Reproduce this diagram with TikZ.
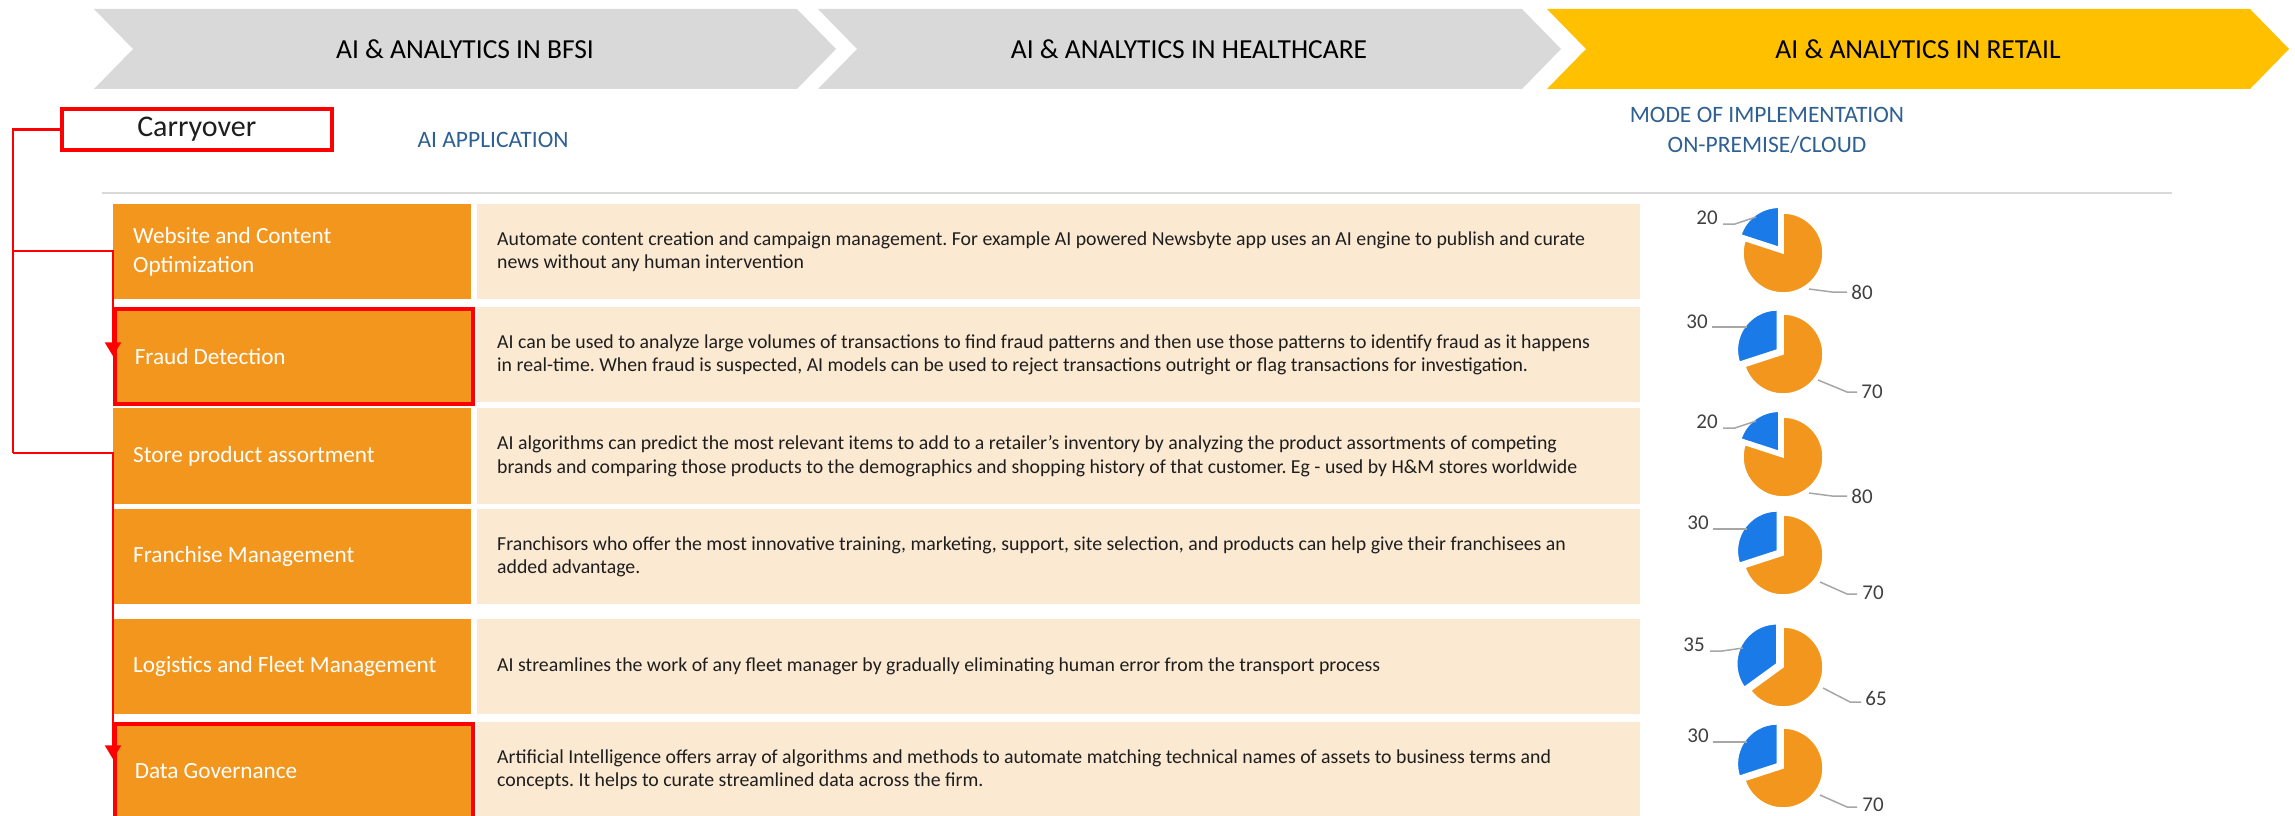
\documentclass[tikz,border=0pt]{standalone}
\usepackage{fontspec}
\setmainfont{Carlito}
\usetikzlibrary{arrows.meta}
\definecolor{chevgray}{RGB}{217,217,217}
\definecolor{chevgold}{RGB}{255,192,0}
\definecolor{boxorange}{RGB}{242,150,30}
\definecolor{cream}{RGB}{251,233,210}
\definecolor{pieblue}{RGB}{26,122,232}
\definecolor{headblue}{RGB}{46,96,146}
\definecolor{labelgray}{RGB}{64,64,64}
\definecolor{leadgray}{RGB}{166,166,166}
\definecolor{rulegray}{RGB}{217,217,217}
\definecolor{darktext}{RGB}{30,30,30}
\newcommand{\mypie}[3]{%
  \begin{scope}[shift={(#1,#2)},yscale=-1]
    \fill[boxorange,draw=white,line width=1.5] (0,0) -- (90:40) arc[start angle=90,end angle={90-360*(1-#3)},radius=40] -- cycle;
    \begin{scope}[shift={({90+180*#3}:7)}]
      \fill[pieblue,draw=white,line width=1.5] (0,0) -- (90:40) arc[start angle=90,end angle={90+360*#3},radius=40] -- cycle;
    \end{scope}
  \end{scope}}
\begin{document}
\frenchspacing
\begin{tikzpicture}[x=1pt,y=-1pt,
  chevtext/.style={font=\fontsize{27.5}{33}\selectfont,text=black,inner sep=0},
  obox/.style={fill=boxorange,anchor=north west,minimum height=95,inner xsep=20,inner ysep=0,
    text width=318,align=flush left,text=white,font=\fontsize{23.2}{29}\selectfont},
  cbox/.style={fill=cream,anchor=north west,minimum width=1163,minimum height=95,inner sep=0},
  ctext/.style={anchor=west,align=flush left,inner sep=0,text=darktext,font=\fontsize{19.8}{23.5}\selectfont},
  redframe/.style={draw=red,line width=3.5},
  redline/.style={draw=red,line width=2.5},
  redarrow/.style={redline,-{Triangle[width=16pt,length=14pt]}},
  head/.style={text=headblue,font=\fontsize{23.5}{30}\selectfont,align=center,inner sep=0},
  plabel/.style={text=labelgray,font=\fontsize{21}{25}\selectfont,inner sep=0},
  leader/.style={draw=leadgray,line width=1.5}]
\clip (0,0) rectangle (2295,816);
\fill[white] (0,0) rectangle (2295,816);
% chevrons
\fill[chevgray] (94,9) -- (797,9) -- (836,49) -- (797,89) -- (94,89) -- (133,49) -- cycle;
\fill[chevgray] (818,9) -- (1522,9) -- (1561,49) -- (1522,89) -- (818,89) -- (857,49) -- cycle;
\fill[chevgold] (1547,9) -- (2250,9) -- (2289,49) -- (2250,89) -- (1547,89) -- (1586,49) -- cycle;
\node[chevtext] (c1) at (465,49) {AI \& ANALYTICS IN BFSI};
\node[chevtext] (c2) at (1189,49) {AI \& ANALYTICS IN HEALTHCARE};
\node[chevtext] (c3) at (1918,49) {AI \& ANALYTICS IN RETAIL};
% headings
\node[head] (happ) at (493,140) {AI APPLICATION};
\node[head] (hmode) at (1767,130) {MODE OF IMPLEMENTATION\\ON-PREMISE/CLOUD};
\draw[draw=rulegray,line width=2.5] (102,193) -- (2172,193);
% carryover
\node[redframe,fill=white,anchor=north west,minimum width=270,minimum height=41,inner sep=0,
  text=darktext,font=\fontsize{30}{34}\selectfont] (carry) at (60,107) {Carryover};
% rows
\node[obox] (r1) at (113,204) {Website and Content\\Optimization};
\node[obox,redframe] (fraud) at (113,307) {Fraud Detection};
\node[obox,minimum height=96] (r3) at (113,408) {Store product assortment};
\node[obox] (r4) at (113,509) {Franchise Management};
\node[obox] (r5) at (113,619) {Logistics and Fleet Management};
\node[obox,redframe] (gov) at (113,722) {Data Governance};
\node[cbox] (d1) at (477,204) {};
\node[cbox] (d2) at (477,307) {};
\node[cbox,minimum height=96] (d3) at (477,408) {};
\node[cbox] (d4) at (477,509) {};
\node[cbox] (d5) at (477,619) {};
\node[cbox] (d6) at (477,722) {};
\node[ctext] (t1) at ([xshift=20]d1.west) {Automate content creation and campaign management. For example AI powered Newsbyte app uses an AI engine to publish and curate\\news without any human intervention};
\node[ctext] (t2) at ([xshift=20]d2.west) {AI can be used to analyze large volumes of transactions to find fraud patterns and then use those patterns to identify fraud as it happens\\in real-time. When fraud is suspected, AI models can be used to reject transactions outright or flag transactions for investigation.};
\node[ctext] (t3) at ([xshift=20]d3.west) {AI algorithms can predict the most relevant items to add to a retailer’s inventory by analyzing the product assortments of competing\\brands and comparing those products to the demographics and shopping history of that customer. Eg - used by H\&M stores worldwide};
\node[ctext] (t4) at ([xshift=20]d4.west) {Franchisors who offer the most innovative training, marketing, support, site selection, and products can help give their franchisees an\\added advantage.};
\node[ctext] (t5) at ([xshift=20]d5.west) {AI streamlines the work of any fleet manager by gradually eliminating human error from the transport process};
\node[ctext] (t6) at ([xshift=20]d6.west) {Artificial Intelligence offers array of algorithms and methods to automate matching technical names of assets to business terms and\\concepts. It helps to curate streamlined data across the firm.};
% carryover connectors
\coordinate (j1) at (13,251);
\coordinate (j2) at (13,453);
\draw[redline] (carry.west) -| (j2);
\draw[redarrow] (j1) -- (j1 -| fraud.west) -- (fraud.west);
\draw[redarrow] (j2) -- (j2 -| gov.west) -- ([yshift=12]gov.west);
% pies
\mypie{1783}{253}{0.2}
\mypie{1783}{354}{0.3}
\mypie{1783}{457}{0.2}
\mypie{1783}{555}{0.3}
\mypie{1783}{667}{0.35}
\mypie{1783}{768}{0.3}
% pie labels
\node[plabel] (p1a) at (1707,218) {20};
\node[plabel] (p1b) at (1862,292) {80};
\draw[leader] (1723,224) -- (1735,224) -- (1756,217);
\draw[leader] (1809,289) -- (1832,292) -- (1847,292);
\node[plabel] (p2a) at (1697,322) {30};
\node[plabel] (p2b) at (1872,392) {70};
\draw[leader] (1712,327) -- (1747,327);
\draw[leader] (1818,380) -- (1847,392) -- (1857,392);
\node[plabel] (p3a) at (1707,422) {20};
\node[plabel] (p3b) at (1862,496) {80};
\draw[leader] (1723,428) -- (1735,428) -- (1756,421);
\draw[leader] (1809,493) -- (1832,496) -- (1847,496);
\node[plabel] (p4a) at (1698,523) {30};
\node[plabel] (p4b) at (1873,593) {70};
\draw[leader] (1713,529) -- (1747,529);
\draw[leader] (1820,582) -- (1847,594) -- (1857,594);
\node[plabel] (p5a) at (1694,645) {35};
\node[plabel] (p5b) at (1876,698) {65};
\draw[leader] (1710,651) -- (1722,651) -- (1743,648);
\draw[leader] (1823,688) -- (1850,702) -- (1861,702);
\node[plabel] (p6a) at (1698,736) {30};
\node[plabel] (p6b) at (1873,805) {70};
\draw[leader] (1713,742) -- (1747,742);
\draw[leader] (1820,795) -- (1847,807) -- (1857,807);
\end{tikzpicture}
\end{document}
